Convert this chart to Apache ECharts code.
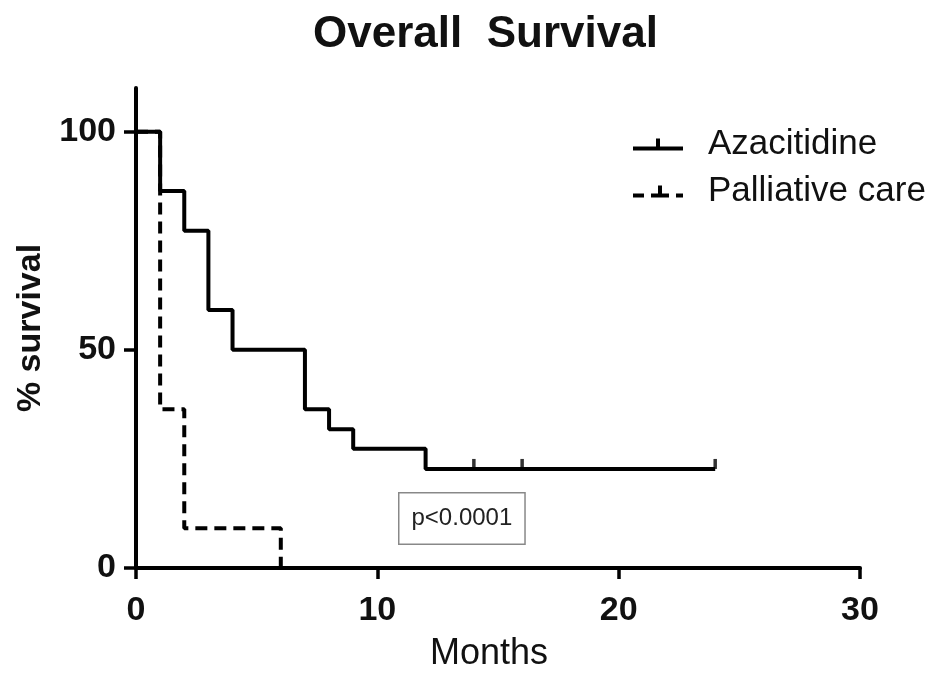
<!DOCTYPE html>
<html>
<head>
<meta charset="utf-8">
<script src="https://cdn.jsdelivr.net/npm/echarts@6/dist/echarts.min.js"></script>
<style>html,body{margin:0;padding:0;background:#fff}#c{width:936px;height:677px}</style>
</head>
<body>
<div id="c"></div>
<script>
// Kaplan-Meier steps (time in months, % survival after that time)
const azaTimes = [0, 1, 2, 3, 4, 7, 8, 9, 12, 24];
const azaSurv = [100, 86.4, 77.3, 59.1, 50, 36.4, 31.8, 27.3, 22.7, 22.7];
const azaCensorTimes = [14, 16, 24];
const azaCensorSurv = [22.7, 22.7, 22.7];
const palTimes = [0, 1, 2, 6];
const palSurv = [100, 36.4, 9.1, 0];
const xTicks = [0, 10, 20, 30];
const yTicks = [0, 50, 100];
const seriesNames = ['Azacitidine', 'Palliative care'];
const pText = 'p<0.0001';

const FONT = '"Liberation Sans", Arial, Helvetica, sans-serif';
const chart = echarts.init(document.getElementById('c'));

const zip = (a, b) => a.map((v, i) => [v, b[i]]);

chart.setOption({
  animation: false,
  backgroundColor: '#fff',
  title: {
    text: 'Overall  Survival',
    left: 308, top: 8,
    textStyle: { fontFamily: FONT, fontSize: 44, fontWeight: 'bold', color: '#111' }
  },
  legend: {
    orient: 'vertical',
    left: 628, top: 122,
    itemGap: 12,
    itemWidth: 50, itemHeight: 12,
    textStyle: { fontFamily: FONT, fontSize: 35, color: '#111', padding: [0, 0, 0, 20] },
    data: [
      { name: seriesNames[0], icon: 'path://M0,8h50v4h-50z M23,0h4v8h-4z' },
      { name: seriesNames[1], icon: 'path://M0,8h11v4h-11z M18,8h18v4h-18z M25,0h4v8h-4z M43,8h7v4h-7z' }
    ],
    itemStyle: { color: '#000', borderWidth: 0 },
    lineStyle: { width: 0 }
  },
  grid: { left: 136, right: 76, top: 88, bottom: 109 },
  xAxis: {
    type: 'value', min: 0, max: 30, interval: 10,
    name: 'Months', nameLocation: 'middle', nameGap: 68,
    nameTextStyle: { fontFamily: FONT, fontSize: 36, color: '#111', padding: [0, 18, 0, 0] },
    axisLine: { show: true, onZero: false, lineStyle: { color: '#000', width: 4 } },
    axisTick: { show: true, length: 11, lineStyle: { color: '#000', width: 3.5 }, customValues: xTicks },
    axisLabel: { margin: 26, fontFamily: FONT, fontSize: 34, fontWeight: 'bold', color: '#111', customValues: xTicks },
    splitLine: { show: false }
  },
  yAxis: {
    type: 'value', min: 0, max: 110,
    name: '% survival', nameLocation: 'middle', nameGap: 88, nameRotate: 90,
    nameTextStyle: { fontFamily: FONT, fontSize: 34, fontWeight: 'bold', color: '#111' },
    axisLine: { show: true, onZero: false, lineStyle: { color: '#000', width: 4 } },
    axisTick: { show: true, length: 12, lineStyle: { color: '#000', width: 3.5 }, customValues: yTicks },
    axisLabel: { margin: 20, fontFamily: FONT, fontSize: 34, fontWeight: 'bold', color: '#111', customValues: yTicks },
    splitLine: { show: false }
  },
  graphic: [{
    type: 'text',
    left: 398, top: 492,
    z: 100,
    style: {
      text: pText,
      fontFamily: FONT, fontSize: 24, fill: '#222',
      backgroundColor: '#fff',
      borderColor: '#888', borderWidth: 1.5,
      padding: [13, 12, 13, 12]
    }
  }],
  series: [
    {
      name: seriesNames[1], type: 'line', step: 'end', symbol: 'none', z: 2,
      data: zip(palTimes, palSurv),
      lineStyle: { color: '#000', width: 4, type: [12, 7] },
      itemStyle: { color: '#000' }
    },
    {
      name: seriesNames[0], type: 'line', step: 'end', symbol: 'none', z: 3,
      data: zip(azaTimes, azaSurv),
      lineStyle: { color: '#000', width: 4 },
      itemStyle: { color: '#000' }
    },
    {
      name: 'censor', type: 'scatter', z: 4,
      symbol: 'rect', symbolSize: [3.5, 10], symbolOffset: [0, -5],
      data: zip(azaCensorTimes, azaCensorSurv),
      itemStyle: { color: '#000' }
    }
  ]
});
</script>
</body>
</html>
